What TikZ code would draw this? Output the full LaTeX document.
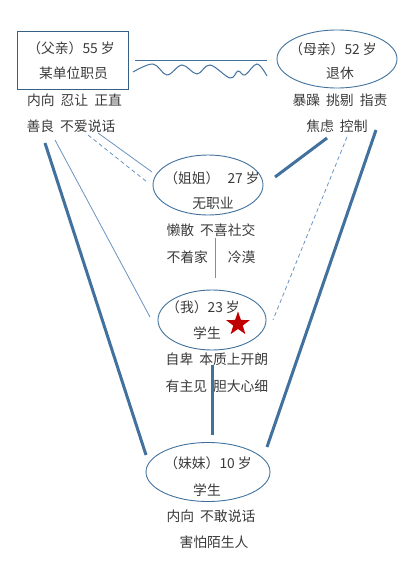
\documentclass[tikz,border=0pt]{standalone}
\usepackage{fontspec}
\setmainfont{Noto Sans CJK SC}
\usetikzlibrary{shapes.geometric}
\definecolor{lineblue}{HTML}{41719C}
\definecolor{thinblue}{HTML}{6A93BF}
\definecolor{txt}{HTML}{3A3A3A}
\definecolor{starred}{HTML}{C00000}
\begin{document}
\begin{tikzpicture}[x=1pt,y=-1pt,
  lbl/.style={font=\fontsize{13.8}{16}\selectfont, text=txt, inner sep=0pt},
  person/.style={ellipse, draw=lineblue, line width=0.9pt, inner sep=0pt},
  thicklink/.style={draw=lineblue, line width=3pt},
  thinlink/.style={draw=thinblue, line width=0.8pt},
  dashlink/.style={draw=thinblue, line width=0.8pt, dash pattern=on 4pt off 3pt}]
\useasboundingbox (0,0) rectangle (417,572);

% people shapes
\node[draw=lineblue!85!black, line width=0.9pt, minimum width=111pt, minimum height=58pt, inner sep=0pt] (fa) at (72.5,60) {};
\node[person, minimum width=120pt, minimum height=58pt] (mo) at (337,59) {};
\node[person, minimum width=110pt, minimum height=60pt] (jj) at (208,185) {};
\node[person, minimum width=108pt, minimum height=60pt] (me) at (212,320) {};
\node[person, minimum width=124pt, minimum height=59pt] (mm) at (208,472) {};

% texts in shapes
\node[lbl] (fa1) at (71,48) {（父亲）55\hspace{3pt}岁};
\node[lbl] (fa2) at (73.5,73) {某单位职员};
\node[lbl] (mo1) at (333,49) {（母亲）52\hspace{3pt}岁};
\node[lbl] (mo2) at (340,73) {退休};
\node[lbl] (jj1) at (212,178) {（姐姐）\hspace{8pt}27\hspace{3pt}岁};
\node[lbl] (jj2) at (213,203) {无职业};
\node[lbl] (me1) at (203,307) {（我）23\hspace{3pt}岁};
\node[lbl] (me2) at (207,333) {学生};
\node[lbl] (mm1) at (208,463) {（妹妹）10\hspace{3pt}岁};
\node[lbl] (mm2) at (207,490) {学生};

% star
\node[star, star points=5, star point ratio=2.5, fill=starred, inner sep=0pt, minimum size=25pt] (st) at (238,324) {};

% traits
\node[lbl] (ft1) at (74.5,100) {内向\hspace{6pt}忍让\hspace{6pt}正直};
\node[lbl] (ft2) at (71,126) {善良\hspace{6pt}不爱说话};
\node[lbl] (mt1) at (340,100) {暴躁\hspace{6pt}挑剔\hspace{6pt}指责};
\node[lbl] (mt2) at (337,126) {焦虑\hspace{6pt}控制};
\node[lbl] (jt1) at (211,230) {懒散\hspace{6pt}不喜社交};
\node[lbl] (jt2) at (211,257) {不着家\hspace{20pt}冷漠};
\node[lbl] (et1) at (217,359) {自卑\hspace{6pt}本质上开朗};
\node[lbl] (et2) at (217,386) {有主见\hspace{6pt}胆大心细};
\node[lbl] (st1) at (211,516) {内向\hspace{6pt}不敢说话};
\node[lbl] (st2) at (214,542) {害怕陌生人};

% connector end points
\coordinate (faA) at (98,133);
\coordinate (faB) at (88,135);
\coordinate (faC) at (55,140);
\coordinate (faD) at (45,143);
\coordinate (jjA) at (152,172);
\coordinate (jjB) at (147,182);
\coordinate (meA) at (150,317);
\coordinate (mmA) at (146,455);
\coordinate (moA) at (327,138);
\coordinate (moB) at (347,137);
\coordinate (moC) at (376,130);
\coordinate (jjC) at (275,177);
\coordinate (meB) at (273,320);
\coordinate (mmB) at (267,447);
\coordinate (jjD) at (215,238);
\coordinate (meC) at (215,278);
\coordinate (meD) at (212,365);
\coordinate (mmC) at (212,435);
\coordinate (hl1) at (135,60);
\coordinate (hl2) at (267,60);

% father-mother
\draw[lineblue, line width=0.9pt] (hl1) -- (hl2);
\draw[lineblue, line width=1pt] plot[smooth, tension=0.6] coordinates {(133,72) (153,64) (167,75) (182,65) (197,74) (210,65) (230,78) (238,71) (245,75) (257,64) (267,76)};

% father links
\draw[thinlink] (faA) -- (jjA);
\draw[dashlink] (faB) -- (jjB);
\draw[thinlink] (faC) -- (meA);
\draw[thicklink] (faD) -- (mmA);

% mother links
\draw[thicklink] (moA) -- (jjC);
\draw[dashlink] (moB) -- (meB);
\draw[thicklink] (moC) -- (mmB);

% sibling links
\draw[thinlink] (jjD) -- (meC);
\draw[thicklink] (meD) -- (mmC);
\end{tikzpicture}
\end{document}
